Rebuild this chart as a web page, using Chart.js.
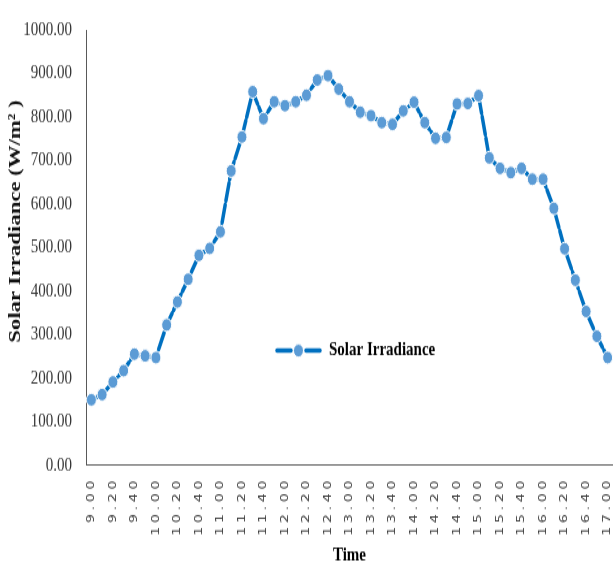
<!DOCTYPE html>
<html>
<head>
<meta charset="utf-8">
<script src="https://cdn.jsdelivr.net/npm/chart.js@4.4.1/dist/chart.umd.min.js"></script>
<style>
    html, body { margin: 0; padding: 0; background: #fff; overflow: hidden; }
    /* drawn at 619x436 and stretched to the window height, like the source image;
       the last few pixels on the right fall outside the window */
    #irradianceChart { display: block; width: 619px !important; height: 567px !important; }
</style>
</head>
<body>
<canvas id="irradianceChart" width="619" height="436"></canvas>
<script>
const timeLabels = [
    '9.00', '9.10', '9.20', '9.30', '9.40', '9.50',
    '10.00', '10.10', '10.20', '10.30', '10.40', '10.50',
    '11.00', '11.10', '11.20', '11.30', '11.40', '11.50',
    '12.00', '12.10', '12.20', '12.30', '12.40', '12.50',
    '13.00', '13.10', '13.20', '13.30', '13.40', '13.50',
    '14.00', '14.10', '14.20', '14.30', '14.40', '14.50',
    '15.00', '15.10', '15.20', '15.30', '15.40', '15.50',
    '16.00', '16.10', '16.20', '16.30', '16.40', '16.50',
    '17.00'
];

const irradiance = [
    150, 162, 191, 217, 255, 251,
    247, 322, 375, 427, 482, 498,
    536, 676, 754, 858, 796, 835,
    826, 835, 850, 885, 895, 864,
    835, 811, 803, 787, 783, 814,
    834, 787, 751, 753, 830, 831,
    849, 706, 682, 672, 682, 657,
    657, 590, 497, 425, 353, 296,
    247
];

const yMin = 0;
const yMax = 1000;
const yStep = 100;

const seriesName = 'Solar Irradiance';
const yTitle = 'Solar Irradiance (W/m\u00B2 )';
const xTitle = 'Time';

const lineColor = '#0070C0';
const markerColor = '#5B9BD5';

// wide-spaced time labels
const spread = s => s.split('').join('\u2005');

// y title and in-plot legend
const extraText = {
    id: 'extraText',
    afterDraw(chart) {
        const { ctx, chartArea } = chart;
        const w = chartArea.right - chartArea.left;
        const h = chartArea.bottom - chartArea.top;

        ctx.save();
        ctx.translate(15, chartArea.top + h * 0.44);
        ctx.rotate(-Math.PI / 2);
        ctx.font = 'bold 17.5px "Liberation Serif"';
        ctx.fillStyle = '#111';
        ctx.textAlign = 'center';
        ctx.textBaseline = 'middle';
        ctx.fillText(yTitle, 0, 0);
        ctx.restore();

        const lx = chartArea.left + w * 0.3624;
        const ly = chartArea.top + h * 0.737;
        ctx.save();
        ctx.strokeStyle = lineColor;
        ctx.lineWidth = 3.5;
        ctx.lineCap = 'round';
        ctx.beginPath();
        ctx.moveTo(lx, ly);
        ctx.lineTo(lx + 14, ly);
        ctx.moveTo(lx + 29, ly);
        ctx.lineTo(lx + 43, ly);
        ctx.stroke();
        ctx.beginPath();
        ctx.arc(lx + 21.5, ly, 5, 0, Math.PI * 2);
        ctx.fillStyle = markerColor;
        ctx.fill();
        ctx.lineWidth = 1;
        ctx.strokeStyle = '#fff';
        ctx.stroke();
        ctx.font = 'bold 15px "Liberation Serif"';
        ctx.fillStyle = '#000';
        ctx.textAlign = 'left';
        ctx.textBaseline = 'middle';
        ctx.fillText(seriesName, lx + 52, ly);
        ctx.restore();
    }
};

const ctx = document.getElementById('irradianceChart').getContext('2d');

new Chart(ctx, {
    type: 'line',
    data: {
        labels: timeLabels,
        datasets: [{
            label: seriesName,
            data: irradiance,
            borderColor: lineColor,
            borderWidth: 3.5,
            borderDash: [14, 3],
            borderCapStyle: 'round',
            borderJoinStyle: 'round',
            tension: 0,
            pointRadius: 5,
            pointBackgroundColor: markerColor,
            pointBorderColor: '#fff',
            pointBorderWidth: 1,
            fill: false,
        }],
    },
    options: {
        responsive: false,
        animation: false,
        layout: { padding: { top: 15, right: 0, bottom: 0, left: 0 } },
        plugins: {
            legend: { display: false },
            tooltip: { enabled: false },
        },
        scales: {
            x: {
                offset: true,
                grid: { display: false, drawTicks: false },
                border: { display: true, color: '#595959', width: 1 },
                ticks: {
                    autoSkip: false,
                    maxRotation: 90,
                    minRotation: 90,
                    padding: 12,
                    color: '#404040',
                    font: { family: '"DejaVu Sans"', size: 11 },
                    callback: function (value, index) {
                        return index % 2 === 0 ? spread(this.getLabelForValue(value)) : null;
                    },
                },
                title: {
                    display: true,
                    text: xTitle,
                    color: '#000',
                    font: { family: '"Liberation Serif"', size: 15, weight: 'bold' },
                    padding: { top: 0, bottom: 0 },
                },
                afterFit: (scale) => {
                    scale.height = 78.4;
                    scale.paddingLeft = 0;
                    scale.paddingRight = 0;
                },
            },
            y: {
                min: yMin,
                max: yMax,
                grid: { display: false, drawTicks: false },
                border: { display: true, color: '#595959', width: 1 },
                ticks: {
                    stepSize: yStep,
                    padding: 14,
                    color: '#333',
                    font: { family: '"Liberation Serif"', size: 15 },
                    callback: (value) => value.toFixed(2),
                },
                afterFit: (scale) => {
                    scale.width = 86;
                },
            },
        },
    },
    plugins: [extraText],
});
</script>
</body>
</html>
